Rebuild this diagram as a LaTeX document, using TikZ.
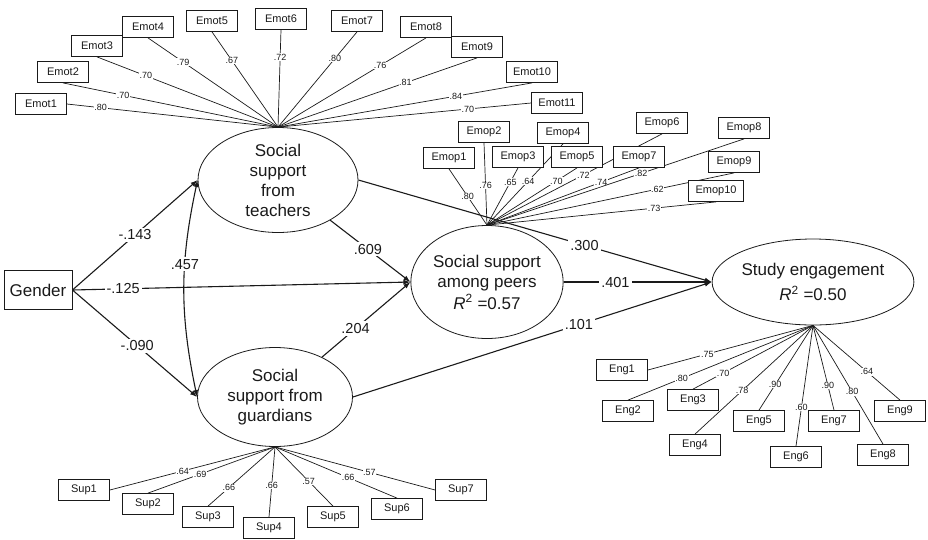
\documentclass[tikz,border=0pt]{standalone}
\usepackage{fontspec}
\setmainfont{Liberation Sans}
\usetikzlibrary{shapes.geometric,arrows.meta}
\pgfdeclarelayer{bg}
\pgfsetlayers{bg,main}
\definecolor{ink}{HTML}{1A1A1A}
\begin{document}
\begin{tikzpicture}[x=1pt,y=-1pt,
  ind/.style={draw=ink, line width=0.8pt, fill=white, minimum width=51pt, minimum height=21pt, inner sep=0pt, text=ink, font=\fontsize{11}{12}\selectfont},
  lat/.style={draw=ink, line width=0.8pt, ellipse, inner sep=0pt, align=center, text=ink, font=\fontsize{17}{20}\selectfont},
  ld/.style={draw=ink, line width=0.7pt},
  sl/.style={fill=white, inner sep=0.6pt, text=ink, font=\fontsize{9}{10}\selectfont},
  pl/.style={fill=white, inner sep=2pt, text=ink, font=\fontsize{14.5}{16}\selectfont},
  arr/.style={draw=ink, line width=1.1pt, -{Latex[length=7pt,width=5pt]}},
  arrb/.style={draw=ink, line width=1.1pt, {Latex[length=7pt,width=5pt]}-{Latex[length=7pt,width=5pt]}}
]
\useasboundingbox (0,0) rectangle (928,539);

% latent variables
\node[lat, minimum width=160pt, minimum height=105pt] (teach) at (278,180) {Social\\support\\from\\teachers};
\node[lat, minimum width=144pt, minimum height=113pt] (peer) at (487,282) {Social support\\among peers\\[2pt]\textit{R}\textsuperscript{2} =0.57};
\node[lat, minimum width=167pt, minimum height=86pt] (study) at (813,282) {Study engagement\\[5pt]\textit{R}\textsuperscript{2} =0.50};
\node[lat, minimum width=155pt, minimum height=99pt] (guard) at (275,397) {Social\\support from\\guardians};
\node[draw=ink, line width=0.9pt, minimum width=68pt, minimum height=39pt, inner sep=0pt, text=ink, font=\fontsize{17}{20}\selectfont] (gender) at (38,290) {Gender};

% Emot indicators
\node[ind] (emt1) at (41,104) {Emot1};
\node[ind] (emt2) at (63,72) {Emot2};
\node[ind] (emt3) at (97,46) {Emot3};
\node[ind] (emt4) at (148,27) {Emot4};
\node[ind] (emt5) at (212,21) {Emot5};
\node[ind] (emt6) at (281,19) {Emot6};
\node[ind] (emt7) at (357,21) {Emot7};
\node[ind] (emt8) at (426,27) {Emot8};
\node[ind] (emt9) at (477,47) {Emot9};
\node[ind] (emt10) at (532,72) {Emot10};
\node[ind] (emt11) at (557,103) {Emot11};

% Emop indicators
\node[ind] (emp1) at (449,158) {Emop1};
\node[ind] (emp2) at (484,132) {Emop2};
\node[ind] (emp3) at (518,157) {Emop3};
\node[ind] (emp4) at (563,133) {Emop4};
\node[ind] (emp5) at (577,157) {Emop5};
\node[ind] (emp6) at (662,123) {Emop6};
\node[ind] (emp7) at (639,157) {Emop7};
\node[ind] (emp8) at (744,128) {Emop8};
\node[ind] (emp9) at (734,162) {Emop9};
\node[ind, minimum width=55pt] (emp10) at (716,191) {Emop10};

% Sup indicators
\node[ind] (sup1) at (84,490) {Sup1};
\node[ind] (sup2) at (148,504) {Sup2};
\node[ind] (sup3) at (208,517) {Sup3};
\node[ind] (sup4) at (269,528) {Sup4};
\node[ind] (sup5) at (333,517) {Sup5};
\node[ind] (sup6) at (397,509) {Sup6};
\node[ind] (sup7) at (461,490) {Sup7};

% Eng indicators
\node[ind] (eng1) at (622,370) {Eng1};
\node[ind] (eng2) at (628,411) {Eng2};
\node[ind] (eng3) at (693,400) {Eng3};
\node[ind] (eng4) at (695,445) {Eng4};
\node[ind] (eng5) at (759,421) {Eng5};
\node[ind] (eng6) at (796,457) {Eng6};
\node[ind] (eng7) at (834,421) {Eng7};
\node[ind] (eng8) at (883,455) {Eng8};
\node[ind] (eng9) at (900,411) {Eng9};

\begin{pgfonlayer}{bg}
% Emot loadings
\draw[ld] (emt1.east) -- node[sl,pos=0.16]{.80} (teach.north);
\draw[ld] (emt2.south) -- node[sl,pos=0.28]{.70} (teach.north);
\draw[ld] (emt3.south) -- node[sl,pos=0.27]{.70} (teach.north);
\draw[ld] (emt4.south) -- node[sl,pos=0.27]{.79} (teach.north);
\draw[ld] (emt5.south) -- node[sl,pos=0.30]{.67} (teach.north);
\draw[ld] (emt6.south) -- node[sl,pos=0.28]{.72} (teach.north);
\draw[ld] (emt7.south) -- node[sl,pos=0.28]{.80} (teach.north);
\draw[ld] (emt8.south) -- node[sl,pos=0.31]{.76} (teach.north);
\draw[ld] (emt9.south) -- node[sl,pos=0.36]{.81} (teach.north);
\draw[ld] (emt10.south) -- node[sl,pos=0.30]{.84} (teach.north);
\draw[ld] (emt11.west) -- node[sl,pos=0.25]{.70} (teach.north);
% Emop loadings
\draw[ld] (emp1.south) -- node[sl,pos=0.49]{.80} (peer.north);
\draw[ld] (emp2.south) -- node[sl,pos=0.52]{.76} (peer.north);
\draw[ld] (emp3.south) -- node[sl,pos=0.25]{.65} (peer.north);
\draw[ld] (emp4.south) -- node[sl,pos=0.46]{.64} (peer.north);
\draw[ld] (emp5.south) -- node[sl,pos=0.23]{.70} (peer.north);
\draw[ld] (emp6.south) -- node[sl,pos=0.45]{.72} (peer.north);
\draw[ld] (emp7.south) -- node[sl,pos=0.25]{.74} (peer.north);
\draw[ld] (emp8.south) -- node[sl,pos=0.40]{.82} (peer.north);
\draw[ld] (emp9.south) -- node[sl,pos=0.31]{.62} (peer.north);
\draw[ld] (emp10.south) -- node[sl,pos=0.27]{.73} (peer.north);
% Sup loadings
\draw[ld] (sup1.east) -- node[sl,pos=0.44]{.64} (guard.south);
\draw[ld] (sup2.north) -- node[sl,pos=0.41]{.69} (guard.south);
\draw[ld] (sup3.north) -- node[sl,pos=0.31]{.66} (guard.south);
\draw[ld] (sup4.north) -- node[sl,pos=0.45]{.66} (guard.south);
\draw[ld] (sup5.north) -- node[sl,pos=0.42]{.57} (guard.south);
\draw[ld] (sup6.north) -- node[sl,pos=0.40]{.66} (guard.south);
\draw[ld] (sup7.west) -- node[sl,pos=0.41]{.57} (guard.south);
% Eng loadings
\draw[ld] (eng1.east) -- node[sl,pos=0.36]{.75} (study.south);
\draw[ld] (eng2.north) -- node[sl,pos=0.29]{.80} (study.south);
\draw[ld] (eng3.north) -- node[sl,pos=0.25]{.70} (study.south);
\draw[ld] (eng4.north) -- node[sl,pos=0.40]{.78} (study.south);
\draw[ld] (eng5.north) -- node[sl,pos=0.30]{.90} (study.south);
\draw[ld] (eng6.north) -- node[sl,pos=0.32]{.60} (study.south);
\draw[ld] (eng7.north) -- node[sl,pos=0.29]{.90} (study.south);
\draw[ld] (eng8.north) -- node[sl,pos=0.44]{.80} (study.south);
\draw[ld] (eng9.north) -- node[sl,pos=0.38]{.64} (study.south);
\end{pgfonlayer}

% structural paths
\draw[arr] (gender.east) -- node[pl,pos=0.5]{-.143} (teach.west);
\draw[arr] (gender.east) -- node[pl,pos=0.15]{-.125} (peer.west);
\draw[arr] (gender.east) -- node[pl,pos=0.52]{-.090} (guard.west);
\draw[arrb] (teach.west) to[bend right=12] node[pl,pos=0.38]{.457} (guard.west);
\draw[arr] (teach) -- node[pl,pos=0.47]{.609} (peer.west);
\draw[arr] (guard) -- node[pl,pos=0.38]{.204} (peer.west);
\draw[arr] (teach.east) -- node[pl,pos=0.64]{.300} (study.west);
\draw[arr] (peer.east) -- node[pl,pos=0.35]{.401} (study.west);
\draw[arr] (guard.east) -- node[pl,pos=0.63]{.101} (study.west);
\end{tikzpicture}
\end{document}
